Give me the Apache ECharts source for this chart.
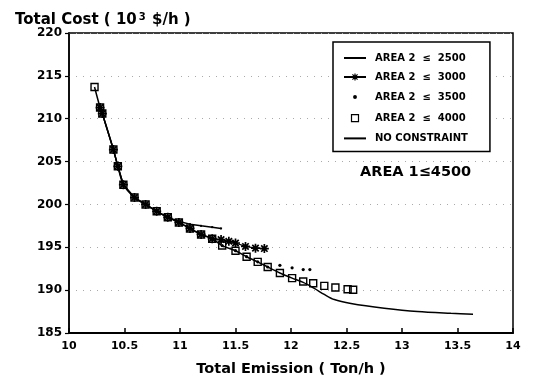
<!DOCTYPE html>
<html>
<head>
<meta charset="utf-8">
<script src="https://cdn.jsdelivr.net/npm/echarts@6/dist/echarts.min.js"></script>
<style>
html,body{margin:0;padding:0;background:#fff;}
#chart{width:534px;height:382px;}
</style>
</head>
<body>
<div id="chart"></div>
<script>
// ---- data ----
const seriesNames = ['AREA 2  ≤  2500', 'AREA 2  ≤  3000', 'AREA 2  ≤  3500', 'AREA 2  ≤  4000', 'NO CONSTRAINT'];

const area2500 = [[10.28,211.3],[10.30,210.6],[10.40,206.4],[10.44,204.45],[10.49,202.3],[10.59,200.8],[10.69,200.0],[10.79,199.2],[10.89,198.5],[10.99,198.0],[11.09,197.7],[11.19,197.5],[11.29,197.35],[11.37,197.2]];

const area3000 = [[10.28,211.3],[10.30,210.6],[10.40,206.4],[10.44,204.45],[10.49,202.3],[10.59,200.8],[10.69,200.0],[10.79,199.2],[10.89,198.5],[10.99,197.9],[11.09,197.2],[11.19,196.5],[11.29,196.0],[11.37,195.9],[11.44,195.7],[11.50,195.5],[11.59,195.1],[11.68,194.9],[11.76,194.85]];

const area3500 = [[10.28,211.3],[10.30,210.6],[10.40,206.4],[10.44,204.45],[10.49,202.3],[10.59,200.8],[10.69,200.0],[10.79,199.2],[10.89,198.5],[10.99,197.9],[11.09,197.2],[11.19,196.5],[11.29,196.0],[11.38,195.2],[11.50,194.6],[11.60,193.9],[11.70,193.3],[11.79,192.7],[11.90,192.9],[12.01,192.6],[12.11,192.4],[12.17,192.4]];

const area4000 = [[10.23,213.7],[10.28,211.3],[10.30,210.6],[10.40,206.4],[10.44,204.45],[10.49,202.3],[10.59,200.8],[10.69,200.0],[10.79,199.2],[10.89,198.5],[10.99,197.9],[11.09,197.2],[11.19,196.5],[11.29,196.0],[11.38,195.2],[11.50,194.6],[11.60,193.9],[11.70,193.3],[11.79,192.7],[11.90,192.0],[12.01,191.4],[12.11,191.0],[12.20,190.8],[12.30,190.5],[12.40,190.3],[12.51,190.1],[12.56,190.05]];

const noConstraint = [[10.23,213.7],[10.28,211.3],[10.30,210.6],[10.40,206.4],[10.44,204.45],[10.49,202.3],[10.59,200.8],[10.69,200.0],[10.79,199.2],[10.89,198.5],[10.99,197.9],[11.09,197.2],[11.19,196.5],[11.29,196.0],[11.38,195.2],[11.50,194.6],[11.60,193.9],[11.70,193.3],[11.79,192.7],[11.90,192.0],[12.01,191.4],[12.11,190.9],[12.21,190.2],[12.30,189.5],[12.39,188.9],[12.54,188.45],[12.84,187.9],[13.14,187.5],[13.44,187.3],[13.64,187.2]];

const xTicks = {min: 10, max: 14, interval: 0.5};
const yTicks = {min: 185, max: 220, interval: 5};

// ---- symbols ----
const FONT = 'DejaVu Sans';
const dotSmall = 'path://M0,0M10,10M4,4h2v2h-2z';
const dotMid = 'path://M0,0M10,10M5,3.4A1.6,1.6,0,1,1,5,6.6A1.6,1.6,0,1,1,5,3.4z';
const star = 'path://M0,0M12,12M6,1.5V10.5M1.5,6H10.5M2.8,2.8L9.2,9.2M2.8,9.2L9.2,2.8';
const square = 'path://M0,0M12,12M2.5,2.5h7v7h-7z';
const noSym = 'path://M0,0M1,1';

const chart = echarts.init(document.getElementById('chart'));
chart.setOption({
  animation: false,
  backgroundColor: '#fff',
  textStyle: {fontFamily: FONT},
  title: {
    left: 10, top: 5,
    text: '{a|Total Cost ( 10}{s|3}{a| $/h )}',
    textStyle: {
      rich: {
        a: {fontFamily: FONT, fontWeight: 'bold', fontSize: 15, color: '#000', verticalAlign: 'bottom', lineHeight: 18},
        s: {fontFamily: FONT, fontWeight: 'bold', fontSize: 10, color: '#000', verticalAlign: 'bottom', padding: [0, 1, 6, 2], lineHeight: 12}
      }
    }
  },
  grid: {left: 69, right: 21, top: 33, bottom: 49, show: true, borderColor: '#000', borderWidth: 1.5, backgroundColor: 'transparent'},
  legend: {
    orient: 'vertical',
    left: 333, top: 42,
    padding: [11, 22, 8, 10],
    itemGap: 8.6,
    itemWidth: 22, itemHeight: 12,
    borderColor: '#000', borderWidth: 1.5,
    backgroundColor: '#fff',
    selectedMode: false,
    itemStyle: {borderWidth: 1.2},
    textStyle: {fontFamily: FONT, fontWeight: 'bold', fontSize: 10, color: '#000', padding: [0, 0, 0, 4]},
    data: seriesNames
  },
  graphic: [{
    type: 'text', left: 360, top: 165,
    style: {text: 'AREA 1≤4500', font: 'bold 14.5px "DejaVu Sans"', fill: '#000'}
  }],
  xAxis: {
    type: 'value', min: xTicks.min, max: xTicks.max, interval: xTicks.interval,
    name: 'Total Emission ( Ton/h )', nameLocation: 'middle', nameGap: 29,
    nameTextStyle: {fontFamily: FONT, fontWeight: 'bold', fontSize: 14.5, color: '#000'},
    axisLine: {lineStyle: {color: '#000', width: 2}},
    axisTick: {inside: true, length: 5, lineStyle: {color: '#000', width: 1.5}},
    axisLabel: {fontFamily: FONT, fontWeight: 'bold', fontSize: 11, color: '#000', margin: 8},
    splitLine: {show: false}
  },
  yAxis: {
    type: 'value', min: yTicks.min, max: yTicks.max, interval: yTicks.interval,
    axisLine: {show: true, lineStyle: {color: '#000', width: 1.5}},
    axisTick: {show: true, inside: false, length: 4, lineStyle: {color: '#000', width: 1.2}},
    axisLabel: {fontFamily: FONT, fontWeight: 'bold', fontSize: 12, color: '#000', margin: 7},
    splitLine: {show: true, lineStyle: {color: '#aaa', width: 1, type: [1, 6]}}
  },
  series: [
    {
      name: seriesNames[4], type: 'line', data: noConstraint, smooth: 0.3,
      symbol: noSym, showSymbol: false,
      lineStyle: {color: '#000', width: 1.5},
      itemStyle: {color: '#000'}, z: 2
    },
    {
      name: seriesNames[0], type: 'line', data: area2500,
      symbol: dotSmall, symbolSize: 10,
      lineStyle: {color: '#000', width: 1.5},
      itemStyle: {color: '#000'}, z: 3
    },
    {
      name: seriesNames[1], type: 'line', data: area3000,
      symbol: star, symbolSize: 12,
      lineStyle: {color: '#000', width: 1.2},
      itemStyle: {color: '#000', borderColor: '#000', borderWidth: 1.7}, z: 4
    },
    {
      name: seriesNames[2], type: 'scatter', data: area3500,
      symbol: dotMid, symbolSize: 10,
      itemStyle: {color: '#000', opacity: 1}, z: 5
    },
    {
      name: seriesNames[3], type: 'scatter', data: area4000,
      symbol: square, symbolSize: 12,
      itemStyle: {color: 'rgba(255,255,255,0)', borderColor: '#000', borderWidth: 1.4, opacity: 1}, z: 6
    }
  ]
});
</script>
</body>
</html>
